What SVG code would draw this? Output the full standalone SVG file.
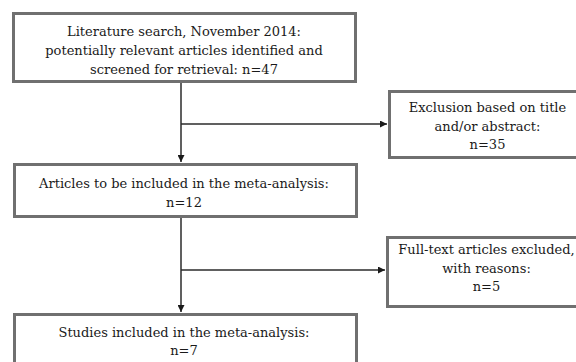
<svg xmlns="http://www.w3.org/2000/svg" width="576" height="362" viewBox="0 0 576 362">
<style>
.box{fill:#fff;stroke:#707070;stroke-width:3}
.t{font-family:"DejaVu Serif","Liberation Serif",serif;font-size:13px;fill:#1a1a1a;text-anchor:middle}
.c{stroke:#2b2b2b;stroke-width:1.5;fill:none}
</style>
<defs>
<marker id="ah" viewBox="0 0 10 10" refX="10" refY="5" markerWidth="7" markerHeight="7" markerUnits="userSpaceOnUse" orient="auto">
<path d="M0,0 L10,5 L0,10 z" fill="#1a1a1a"/>
</marker>
</defs>
<rect width="576" height="362" fill="#fff"/>
<g id="connectors">
<line class="c" x1="181" y1="83" x2="181" y2="162" marker-end="url(#ah)"/>
<line class="c" x1="181" y1="124" x2="387" y2="124" marker-end="url(#ah)"/>
<line class="c" x1="181" y1="218" x2="181" y2="312" marker-end="url(#ah)"/>
<line class="c" x1="181" y1="270" x2="385" y2="270" marker-end="url(#ah)"/>
</g>
<g id="search">
<rect class="box" x="13.5" y="13.5" width="342" height="68"/>
<text class="t" x="184" y="36">Literature search, November 2014:</text>
<text class="t" x="184" y="55">potentially relevant articles identified and</text>
<text class="t" x="184" y="74">screened for retrieval: n=47</text>
</g>
<g id="exclusion">
<rect class="box" x="389.5" y="91.5" width="200" height="66"/>
<text class="t" x="487.5" y="112">Exclusion based on title</text>
<text class="t" x="487.5" y="131">and/or abstract:</text>
<text class="t" x="487.5" y="149">n=35</text>
</g>
<g id="articles">
<rect class="box" x="14.5" y="164.5" width="342" height="52"/>
<text class="t" x="184" y="188">Articles to be included in the meta-analysis:</text>
<text class="t" x="184" y="207">n=12</text>
</g>
<g id="fulltext">
<rect class="box" x="387.5" y="237.5" width="200" height="69"/>
<text class="t" x="486.5" y="254">Full-text articles excluded,</text>
<text class="t" x="486.5" y="273">with reasons:</text>
<text class="t" x="486.5" y="291">n=5</text>
</g>
<g id="studies">
<rect class="box" x="14.5" y="314.5" width="342" height="60"/>
<text class="t" x="184" y="337">Studies included in the meta-analysis:</text>
<text class="t" x="184" y="355">n=7</text>
</g>
</svg>
